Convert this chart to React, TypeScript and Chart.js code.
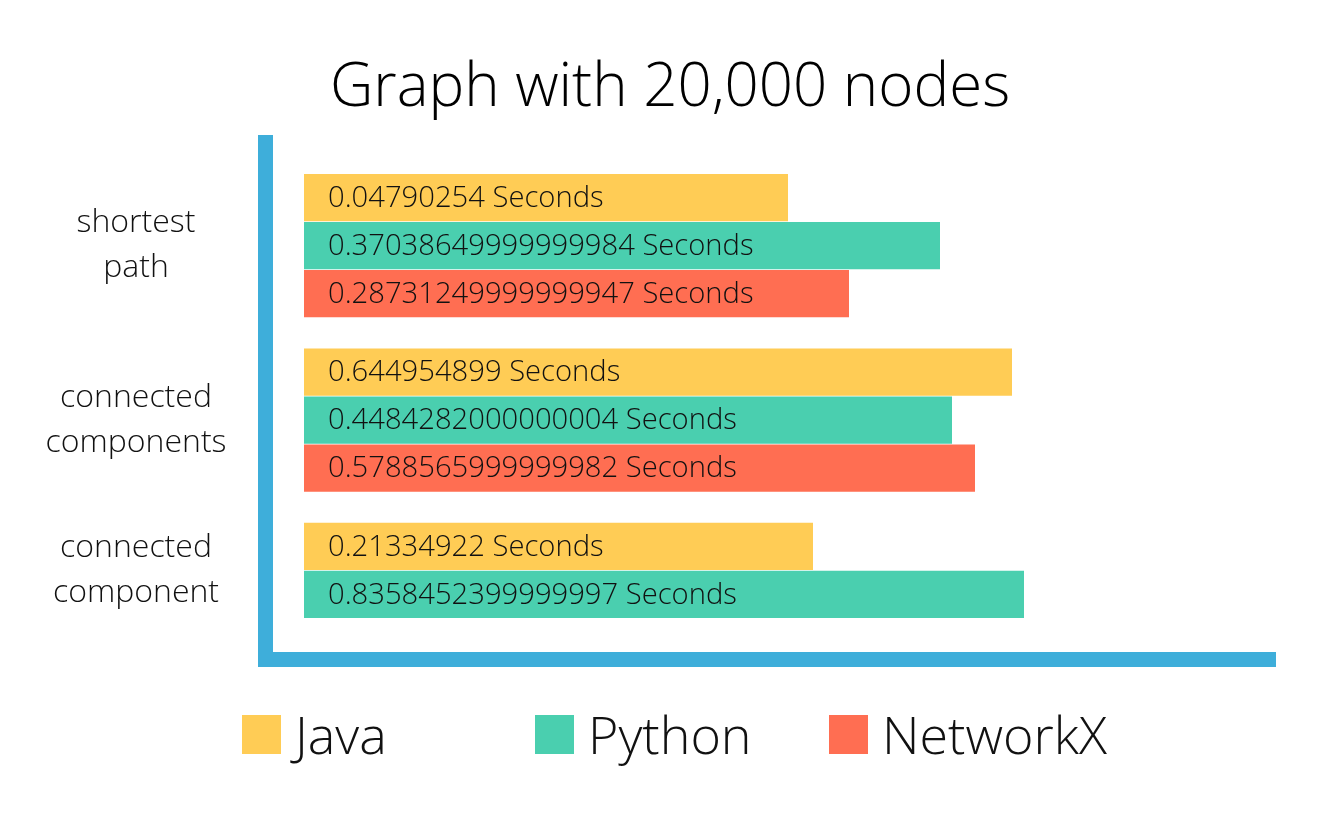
import React, { useEffect, useRef } from 'react';
import { Chart, registerables } from 'chart.js';

Chart.register(...registerables);

const TITLE = 'Graph with 20,000 nodes';
const FONT = '"Open Sans", "Noto Sans", sans-serif';
const TEXT_COLOR = '#111111';
const AXIS_BLUE = '#3EAEDA';

// categories (two-line labels)
const categories: string[][] = [
  ['shortest', 'path'],
  ['connected', 'components'],
  ['connected', 'component'],
];

const seriesNames = ['Java', 'Python', 'NetworkX'];
const seriesColors = ['#FFCC55', '#4ACFAF', '#FF6E52'];

// bar lengths as drawn in the picture (arbitrary visual units)
const javaLengths: (number | null)[] = [48.4, 70.8, 50.9];
const pythonLengths: (number | null)[] = [63.6, 64.8, 72.0];
const networkxLengths: (number | null)[] = [54.5, 67.1, null];

// times written on the bars
const javaTimes: (string | null)[] = ['0.04790254', '0.644954899', '0.21334922'];
const pythonTimes: (string | null)[] = ['0.37038649999999984', '0.4484282000000004', '0.8358452399999997'];
const networkxTimes: (string | null)[] = ['0.28731249999999947', '0.5788565999999982', null];
const UNIT = 'Seconds';

const seriesLengths = [javaLengths, pythonLengths, networkxLengths];
const seriesTimes = [javaTimes, pythonTimes, networkxTimes];

const barLabelPlugin = {
  id: 'barLabels',
  afterDatasetsDraw(chart: any) {
    const ctx = chart.ctx;
    const area = chart.chartArea;
    const centers: number[][] = categories.map(() => []);
    chart.data.datasets.forEach((ds: any, di: number) => {
      const meta = chart.getDatasetMeta(di);
      meta.data.forEach((bar: any, j: number) => {
        const ci = ds.data[j].y;
        const t = seriesTimes[di][ci];
        const { y, base } = bar.getProps(['y', 'base'], true);
        centers[ci].push(y);
        if (!t) return;
        ctx.save();
        ctx.font = `300 29.2px ${FONT}`;
        ctx.fillStyle = TEXT_COLOR;
        ctx.textAlign = 'left';
        ctx.textBaseline = 'middle';
        ctx.fillText(`${t} ${UNIT}`, base + 24, y + 1);
        ctx.restore();
      });
    });
    // category labels, centred on the bars of each category
    ctx.save();
    ctx.font = `300 32px ${FONT}`;
    ctx.fillStyle = TEXT_COLOR;
    ctx.textAlign = 'center';
    ctx.textBaseline = 'middle';
    categories.forEach((lines, ci) => {
      const ys = centers[ci];
      if (!ys.length) return;
      const cy = ys.reduce((a, b) => a + b, 0) / ys.length;
      lines.forEach((line, k) => {
        ctx.fillText(line, area.left - 129, cy + (k - (lines.length - 1) / 2) * 45);
      });
    });
    ctx.restore();
  },
};

export default function App() {
  const canvasRef = useRef<HTMLCanvasElement | null>(null);

  useEffect(() => {
    document.body.style.margin = '0';
    const canvas = canvasRef.current;
    if (!canvas) return;
    const datasets = seriesNames.map((name, di) => ({
      label: name,
      data: seriesLengths[di]
        .map((v, i) => (v == null ? null : { x: v, y: i }))
        .filter((p) => p !== null),
      backgroundColor: seriesColors[di],
      borderWidth: 0,
      categoryPercentage: 0.826,
      barPercentage: 0.985,
    }));

    const chart = new Chart(canvas, {
      type: 'bar',
      data: { datasets: datasets as any },
      plugins: [barLabelPlugin],
      options: {
        animation: false,
        responsive: false,
        indexAxis: 'y',
        layout: { padding: { left: 20, right: 0, top: 0, bottom: 166 } },
        plugins: {
          legend: { display: false },
          tooltip: { enabled: false },
          title: {
            display: true,
            text: TITLE,
            color: '#000000',
            font: { family: FONT, size: 60, weight: '300' as any, lineHeight: 1.2 },
            padding: { top: 53, bottom: 17 },
          },
        },
        scales: {
          x: {
            type: 'linear',
            min: -3.9,
            max: 97.1,
            ticks: { display: false },
            grid: { display: false, drawTicks: false },
            border: { display: true, color: AXIS_BLUE, width: 15 },
            afterFit: (s: any) => {
              s.height = 0;
            },
          },
          y: {
            type: 'linear',
            position: 'left',
            reverse: true,
            offset: false,
            min: -0.595,
            max: 2.371,
            afterBuildTicks: (s: any) => {
              s.ticks = categories.map((_c, i) => ({ value: i }));
            },
            afterFit: (s: any) => {
              s.width = 245;
            },
            grid: { display: false, drawTicks: false, offset: false },
            border: { display: true, color: AXIS_BLUE, width: 15 },
            ticks: { display: false },
          },
          yRight: {
            type: 'linear',
            position: 'right',
            display: true,
            ticks: { display: false },
            grid: { display: false, drawTicks: false },
            border: { display: false },
            afterFit: (s: any) => {
              s.width = 45;
            },
          },
        },
      },
    });
    return () => chart.destroy();
  }, []);

  const legendLeft = [242, 535, 829];

  return (
    <div style={{ position: 'relative', width: 1320, height: 825, background: '#ffffff' }}>
      <canvas ref={canvasRef} width={1320} height={825} style={{ display: 'block', width: 1320, height: 825 }} />
      {seriesNames.map((name, i) => (
        <div
          key={name}
          style={{
            position: 'absolute',
            left: legendLeft[i],
            top: 704,
            whiteSpace: 'nowrap',
            fontFamily: FONT,
            fontWeight: 300,
            fontSize: 52,
            lineHeight: '60px',
            color: TEXT_COLOR,
          }}
        >
          <span
            style={{
              display: 'inline-block',
              width: 39,
              height: 39,
              background: seriesColors[i],
              marginRight: 14,
              verticalAlign: 'baseline',
            }}
          />
          {name}
        </div>
      ))}
    </div>
  );
}
